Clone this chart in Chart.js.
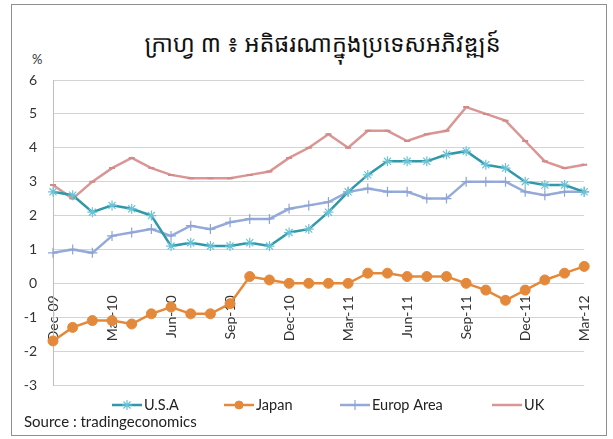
<!DOCTYPE html>
<html>
<head>
<meta charset="utf-8">
<script src="https://cdn.jsdelivr.net/npm/chart.js@4.4.1/dist/chart.umd.min.js"></script>
<style>
body{margin:0;background:#fff;}
#wrap{position:relative;width:613px;height:439px;overflow:hidden;}
#frame{position:absolute;left:11px;top:4px;width:596px;height:432px;border:1px solid #8f8f8f;box-sizing:border-box;}
#title{position:absolute;left:0;width:645px;top:27px;text-align:center;font-family:"Noto Sans Khmer","Khmer OS","DejaVu Sans",sans-serif;font-size:23.5px;color:#111;}
#pct{position:absolute;left:32px;top:51px;font-family:Lato,"Open Sans",sans-serif;font-size:13px;color:#333;}
#source{position:absolute;left:24px;top:412px;font-family:Lato,"Open Sans",sans-serif;font-size:15px;color:#222;}
canvas{position:absolute;left:0;top:0;}
</style>
</head>
<body>
<div id="wrap">
  <div id="frame"></div>
  <div id="title">ក្រាហ្វ ៣ ៖ អតិផរណាក្នុងប្រទេសអភិវឌ្ឍន៍</div>
  <div id="pct">%</div>
  <canvas id="chart" width="613" height="439"></canvas>
  <div id="source">Source : tradingeconomics</div>
</div>
<script>
// monthly inflation, Dec-09 .. Mar-12
const months = ["Dec-09","Jan-10","Feb-10","Mar-10","Apr-10","May-10","Jun-10","Jul-10","Aug-10","Sep-10","Oct-10","Nov-10",
  "Dec-10","Jan-11","Feb-11","Mar-11","Apr-11","May-11","Jun-11","Jul-11","Aug-11","Sep-11","Oct-11","Nov-11",
  "Dec-11","Jan-12","Feb-12","Mar-12"];

const usa    = [2.7,2.6,2.1,2.3,2.2,2.0,1.1,1.2,1.1,1.1,1.2,1.1,1.5,1.6,2.1,2.7,3.2,3.6,3.6,3.6,3.8,3.9,3.5,3.4,3.0,2.9,2.9,2.7];
const japan  = [-1.7,-1.3,-1.1,-1.1,-1.2,-0.9,-0.7,-0.9,-0.9,-0.6,0.2,0.1,0.0,0.0,0.0,0.0,0.3,0.3,0.2,0.2,0.2,0.0,-0.2,-0.5,-0.2,0.1,0.3,0.5];
const europe = [0.9,1.0,0.9,1.4,1.5,1.6,1.4,1.7,1.6,1.8,1.9,1.9,2.2,2.3,2.4,2.7,2.8,2.7,2.7,2.5,2.5,3.0,3.0,3.0,2.7,2.6,2.7,2.7];
const uk     = [2.9,2.5,3.0,3.4,3.7,3.4,3.2,3.1,3.1,3.1,3.2,3.3,3.7,4.0,4.4,4.0,4.5,4.5,4.2,4.4,4.5,5.2,5.0,4.8,4.2,3.6,3.4,3.5];

const seriesNames = ["U.S.A","Japan","Europ Area","UK"];

// legend drawn in the canvas, line + marker like the excel original
const legendPlugin = {
    id: "bottomLegend",
    afterDraw(chart){
        const ctx = chart.ctx;
        const starts = [112, 224, 340, 492];
        const y = 405;
        chart.data.datasets.forEach((ds, i) => {
            const x0 = starts[i];
            ctx.save();
            ctx.strokeStyle = ds.borderColor;
            ctx.lineWidth = 2.5;
            ctx.beginPath();
            ctx.moveTo(x0, y);
            ctx.lineTo(x0 + 30, y);
            ctx.stroke();
            if(Chart.helpers && Chart.helpers.drawPoint && ds.pointStyle !== "line"){
                ctx.fillStyle = ds.pointBackgroundColor;
                ctx.strokeStyle = ds.pointBorderColor;
                ctx.lineWidth = ds.pointBorderWidth || 1;
                const r = ds.pointStyle === "circle" ? 4 : ds.pointRadius;
                Chart.helpers.drawPoint(ctx, {pointStyle: ds.pointStyle, radius: r, borderWidth: ds.pointBorderWidth}, x0 + 15, y);
            }
            ctx.fillStyle = "#222";
            ctx.font = "14.5px Lato, 'Open Sans', sans-serif";
            ctx.textBaseline = "middle";
            ctx.fillText(ds.label, x0 + 32, y);
            ctx.restore();
        });
    }
};

const ctx = document.getElementById("chart").getContext("2d");

new Chart(ctx, {
    type: "line",
    data: {
        labels: months,
        datasets: [{
            label: seriesNames[0],
            data: usa,
            borderColor: "#2f98a9",
            borderWidth: 2.5,
            pointStyle: "star",
            pointRadius: 5,
            pointBorderWidth: 1.2,
            pointBorderColor: "#6cc3d6",
            pointBackgroundColor: "#6cc3d6"
        },
        {
            label: seriesNames[1],
            data: japan,
            borderColor: "#e4893b",
            borderWidth: 2.5,
            pointStyle: "circle",
            pointRadius: 5,
            pointBorderWidth: 1,
            pointBorderColor: "#e4893b",
            pointBackgroundColor: "#e4893b"
        },
        {
            label: seriesNames[2],
            data: europe,
            borderColor: "#95aad9",
            borderWidth: 2.5,
            pointStyle: "cross",
            pointRadius: 5,
            pointBorderWidth: 1.2,
            pointBorderColor: "#8ea3d6",
            pointBackgroundColor: "#8ea3d6"
        },
        {
            label: seriesNames[3],
            data: uk,
            borderColor: "#d99694",
            borderWidth: 2.5,
            pointStyle: "line",
            pointRadius: 3,
            pointBorderWidth: 2,
            pointBorderColor: "#d08a88",
            pointBackgroundColor: "#d08a88"
        }]
    },
    options: {
        responsive: false,
        devicePixelRatio: 1,
        animation: false,
        layout: {
            padding: {left: 0, top: 80, right: 26, bottom: 54}
        },
        plugins: {
            legend: {display: false},
            title: {display: false},
            tooltip: {enabled: false}
        },
        scales: {
            x: {
                position: {y: 0},
                offset: false,
                grid: {display: false, drawTicks: false},
                border: {display: false},
                ticks: {
                    autoSkip: false,
                    minRotation: 90,
                    maxRotation: 90,
                    padding: 12,
                    color: "#333",
                    font: {family: "Lato, 'Open Sans', sans-serif", size: 14},
                    callback: function(value, index){
                        return index % 3 === 0 ? months[index] : "";
                    }
                }
            },
            y: {
                min: -3,
                max: 6,
                afterFit: function(scale){ scale.width = 53; },
                grid: {color: "#d4d4d4", lineWidth: 1, drawTicks: false},
                border: {display: true, color: "#bdbdbd", width: 1},
                ticks: {
                    stepSize: 1,
                    padding: 16,
                    color: "#333",
                    font: {family: "Lato, 'Open Sans', sans-serif", size: 14}
                }
            }
        }
    },
    plugins: [legendPlugin]
});
</script>
</body>
</html>
